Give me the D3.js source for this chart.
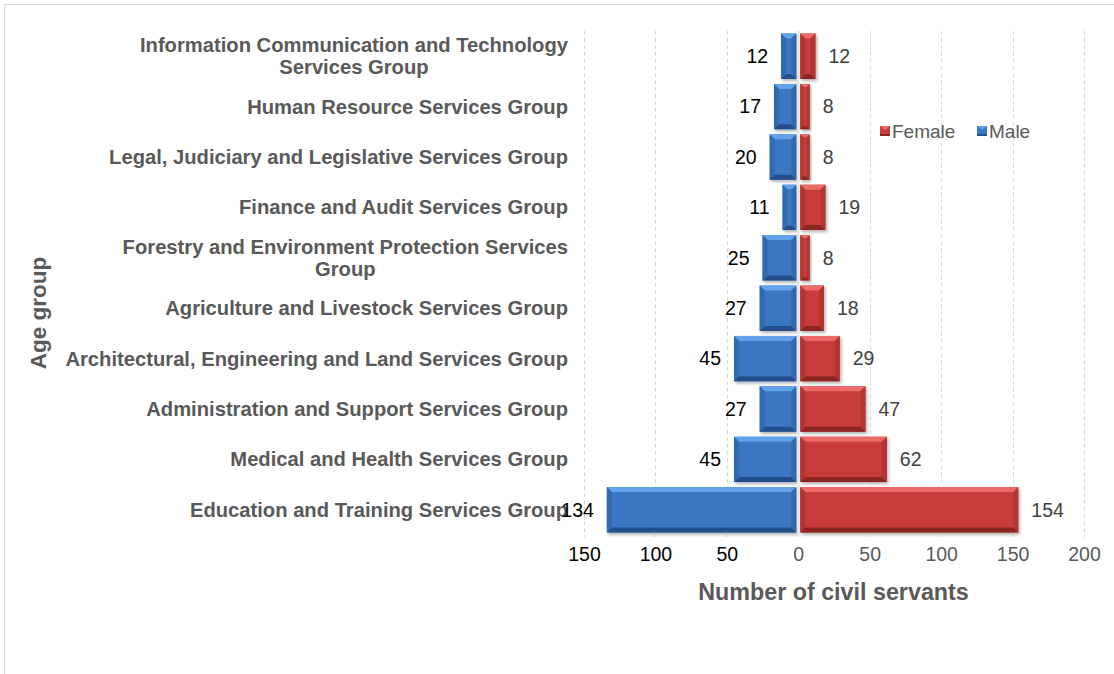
<!DOCTYPE html>
<html>
<head>
<meta charset="utf-8">
<script src="https://cdn.jsdelivr.net/npm/d3@7"></script>
<style>
  html, body { margin: 0; padding: 0; background: #fff; }
  svg { display: block; font-family: "Liberation Sans", Arial, sans-serif; }
</style>
</head>
<body>
<svg id="chart" width="1114" height="674"></svg>
<script>
const categories = [
  "Information Communication and Technology Services Group",
  "Human Resource Services Group",
  "Legal, Judiciary and Legislative Services Group",
  "Finance and Audit Services Group",
  "Forestry and Environment Protection Services Group",
  "Agriculture and Livestock Services Group",
  "Architectural, Engineering and Land Services Group",
  "Administration and Support Services Group",
  "Medical and Health Services Group",
  "Education and Training Services Group"
];
const male   = [12, 17, 20, 11, 25, 27, 45, 27, 45, 134];
const female = [12, 8, 8, 19, 8, 18, 29, 47, 62, 154];
const xTickValues = [-150, -100, -50, 0, 50, 100, 150, 200];
const seriesNames = ["Female", "Male"];
const xTitle = "Number of civil servants";
const yTitle = "Age group";

// label line breaks as in the original
const breakBefore = {
  "Information Communication and Technology Services Group": "Services Group",
  "Forestry and Environment Protection Services Group": "Group"
};

const svg = d3.select("#chart");
const W = 1114, H = 674;

// chart border (only top/left visible)
svg.append("rect").attr("x", 4.5).attr("y", 4.5).attr("width", W + 20).attr("height", H + 20)
  .attr("fill", "#fff").attr("stroke", "#d9d9d9").attr("stroke-width", 1);

const x = d3.scaleLinear().domain([-150, 200]).range([584, 1084]);
const y = d3.scaleBand().domain(categories).range([31, 535]).paddingInner(0.1).paddingOuter(0.05);

const colors = {
  Male:   { face: "#3b77c2", light: "#62a2ea", dark: "#24508c", side: "#306aae" },
  Female: { face: "#c83d3b", light: "#ec6a68", dark: "#8a2523", side: "#b23432" }
};

// drop shadow
const defs = svg.append("defs");
const f = defs.append("filter").attr("id", "shadow").attr("x", "-10%").attr("y", "-20%").attr("width", "130%").attr("height", "160%");
f.append("feDropShadow").attr("dx", 1.5).attr("dy", 2).attr("stdDeviation", 1.5).attr("flood-color", "#000").attr("flood-opacity", 0.3);

// gridlines
const grid = svg.append("g");
grid.selectAll("line").data(xTickValues.filter(v => v !== 0)).join("line")
  .attr("x1", d => Math.round(x(d)) + 0.5).attr("x2", d => Math.round(x(d)) + 0.5)
  .attr("y1", 31).attr("y2", 537)
  .attr("stroke", "#d9d9d9").attr("stroke-width", 1).attr("stroke-dasharray", "4,3");

function bevelBar(g, x0, x1, y0, y1, c) {
  const w = x1 - x0, h = y1 - y0;
  const b = Math.min(5, w / 3, h / 3);
  const bar = g.append("g").attr("filter", "url(#shadow)");
  bar.append("rect").attr("x", x0).attr("y", y0).attr("width", w).attr("height", h).attr("fill", c.face);
  const poly = (pts, fill) => bar.append("polygon").attr("points", pts.map(p => p.join(",")).join(" ")).attr("fill", fill);
  poly([[x0, y0], [x1, y0], [x1 - b, y0 + b], [x0 + b, y0 + b]], c.light);
  poly([[x0, y1], [x1, y1], [x1 - b, y1 - b], [x0 + b, y1 - b]], c.dark);
  poly([[x0, y0], [x0 + b, y0 + b], [x0 + b, y1 - b], [x0, y1]], c.side);
  poly([[x1, y0], [x1 - b, y0 + b], [x1 - b, y1 - b], [x1, y1]], c.side);
}

const bars = svg.append("g");
const gap = 2;
categories.forEach((cat, i) => {
  const y0 = y(cat), y1 = y(cat) + y.bandwidth();
  bevelBar(bars, x(-male[i]), x(0) - gap, y0, y1, colors.Male);
  bevelBar(bars, x(0) + gap, x(female[i]), y0, y1, colors.Female);
});

// zero separator
svg.append("line").attr("x1", x(0)).attr("x2", x(0)).attr("y1", 31).attr("y2", 537)
  .attr("stroke", "#e6e6e6").attr("stroke-width", 2.5);

// category labels
const catG = svg.append("g").attr("font-size", 20.2).attr("font-weight", "bold").attr("fill", "#595959");
categories.forEach(cat => {
  const cy = y(cat) + y.bandwidth() / 2;
  const br = breakBefore[cat];
  const lines = br ? [cat.slice(0, cat.length - br.length).trim(), br] : [cat];
  const t1 = catG.append("text").attr("x", 568).attr("text-anchor", "end").text(lines[0]);
  if (lines.length === 1) {
    t1.attr("y", cy).attr("dy", "0.35em");
  } else {
    const w1 = t1.node().getComputedTextLength();
    const cx = 568 - w1 / 2;
    t1.attr("x", cx).attr("text-anchor", "middle").attr("y", cy - 11).attr("dy", "0.35em");
    catG.append("text").attr("x", cx).attr("text-anchor", "middle").attr("y", cy + 11).attr("dy", "0.35em").text(lines[1]);
  }
});

// data labels
const lab = svg.append("g").attr("font-size", 19.5);
lab.selectAll(".ml").data(categories).join("text")
  .attr("x", (d, i) => x(-male[i]) - 13).attr("y", d => y(d) + y.bandwidth() / 2)
  .attr("dy", "0.35em").attr("text-anchor", "end").attr("fill", "#000")
  .text((d, i) => male[i]);
lab.selectAll(".fl").data(categories).join("text")
  .attr("x", (d, i) => x(female[i]) + 13).attr("y", d => y(d) + y.bandwidth() / 2)
  .attr("dy", "0.35em").attr("text-anchor", "start").attr("fill", "#404040")
  .text((d, i) => female[i]);

// x axis (tick labels only)
const axis = d3.axisBottom(x).tickValues(xTickValues).tickFormat(d => Math.abs(d)).tickSize(0).tickPadding(0);
const ag = svg.append("g").attr("transform", "translate(0,547)").call(axis);
ag.select(".domain").remove();
ag.selectAll("text").attr("font-size", 19.5).attr("font-family", "Liberation Sans, Arial, sans-serif")
  .attr("fill", d => d < 0 ? "#000" : "#595959");

// axis titles
svg.append("text").attr("x", 833.5).attr("y", 592).attr("dy", "0.35em").attr("text-anchor", "middle")
  .attr("font-size", 23.3).attr("font-weight", "bold").attr("fill", "#595959").text(xTitle);
svg.append("text").attr("transform", "translate(38,313) rotate(-90)").attr("dy", "0.35em").attr("text-anchor", "middle")
  .attr("font-size", 22.5).attr("font-weight", "bold").attr("fill", "#595959").text(yTitle);

// legend
const leg = svg.append("g").attr("font-size", 19).attr("fill", "#595959");
const legendItems = [{ name: seriesNames[0], x: 880, c: colors.Female }, { name: seriesNames[1], x: 977, c: colors.Male }];
legendItems.forEach(it => {
  const g = leg.append("g");
  g.append("rect").attr("x", it.x).attr("y", 126).attr("width", 10).attr("height", 10).attr("fill", it.c.face);
  g.append("polygon").attr("points", `${it.x},126 ${it.x + 10},126 ${it.x + 5},130`).attr("fill", it.c.light);
  g.append("rect").attr("x", it.x).attr("y", 134).attr("width", 10).attr("height", 2).attr("fill", it.c.dark);
  g.append("text").attr("x", it.x + 12).attr("y", 131).attr("dy", "0.35em").text(it.name);
});
</script>
</body>
</html>
